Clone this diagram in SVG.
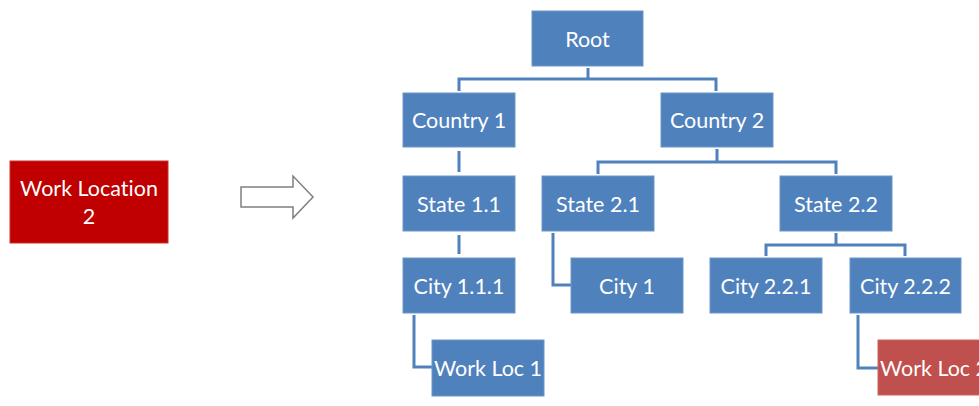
<svg xmlns="http://www.w3.org/2000/svg" width="979" height="406" viewBox="0 0 979 406">
  <style>
    .box { fill: #4F81BD; stroke: #6C95C8; stroke-width: 1; }
    .red { fill: #C00000; stroke: #C9302E; stroke-width: 1; }
    .red2 { fill: #C0504D; stroke: #C86663; stroke-width: 1; }
    .lbl { font-family: Lato, "Liberation Sans", sans-serif; font-size: 21.5px; fill: #FFFFFF; text-anchor: middle; dominant-baseline: central; font-variant-ligatures: none; }
    .wire { fill: none; stroke: #4F81BD; stroke-width: 3; }
  </style>
  <rect width="979" height="406" fill="#FFFFFF"/>

  <g id="work-location-2">
    <rect class="red" x="10" y="161" width="158" height="82"/>
    <text class="lbl" x="89" y="188">Work Location</text>
    <text class="lbl" x="89" y="216">2</text>
  </g>

  <g id="arrow">
    <path d="M241,187 L293,187 L293,176 L313,197 L293,218 L293,207 L241,207 Z" fill="#FFFFFF" stroke="#7F7F7F" stroke-width="1.5" stroke-linejoin="miter"/>
  </g>

  <g id="connectors">
    <path class="wire" d="M588,68 V79 M459,91 V79 H716 V91"/>
    <path class="wire" d="M459,151 V172"/>
    <path class="wire" d="M717,149 V162 M598,174 V162 H836 V174"/>
    <path class="wire" d="M459,235 V254"/>
    <path class="wire" d="M553,233 V285 H571"/>
    <path class="wire" d="M836,233 V245 M766,256 V245 H905 V256"/>
    <path class="wire" d="M414,315 V367 H432"/>
    <path class="wire" d="M858,315 V368 H878"/>
  </g>

  <g id="root">
    <rect class="box" x="532" y="11" width="111" height="55"/>
    <text class="lbl" x="587.5" y="38.5">Root</text>
  </g>
  <g id="country-1">
    <rect class="box" x="403" y="93" width="112" height="54"/>
    <text class="lbl" x="459" y="120">Country 1</text>
  </g>
  <g id="country-2">
    <rect class="box" x="661" y="93" width="112" height="54"/>
    <text class="lbl" x="717" y="120">Country 2</text>
  </g>
  <g id="state-1-1">
    <rect class="box" x="403" y="176" width="112" height="55"/>
    <text class="lbl" x="459" y="203.5">State 1.1</text>
  </g>
  <g id="state-2-1">
    <rect class="box" x="542" y="176" width="112" height="55"/>
    <text class="lbl" x="598" y="203.5">State 2.1</text>
  </g>
  <g id="state-2-2">
    <rect class="box" x="780" y="176" width="112" height="55"/>
    <text class="lbl" x="836" y="203.5">State 2.2</text>
  </g>
  <g id="city-1-1-1">
    <rect class="box" x="403" y="258" width="112" height="55"/>
    <text class="lbl" x="459" y="285.5">City 1.1.1</text>
  </g>
  <g id="city-1">
    <rect class="box" x="571" y="258" width="112" height="55"/>
    <text class="lbl" x="627" y="285.5">City 1</text>
  </g>
  <g id="city-2-2-1">
    <rect class="box" x="710" y="258" width="112" height="55"/>
    <text class="lbl" x="766" y="285.5">City 2.2.1</text>
  </g>
  <g id="city-2-2-2">
    <rect class="box" x="850" y="258" width="111" height="55"/>
    <text class="lbl" x="905.5" y="285.5">City 2.2.2</text>
  </g>
  <g id="work-loc-1">
    <rect class="box" x="432" y="340" width="112" height="56"/>
    <text class="lbl" x="488" y="368">Work Loc 1</text>
  </g>
  <g id="work-loc-2">
    <rect class="red2" x="878" y="340" width="112" height="55"/>
    <text class="lbl" x="934" y="368">Work Loc 2</text>
  </g>
</svg>
